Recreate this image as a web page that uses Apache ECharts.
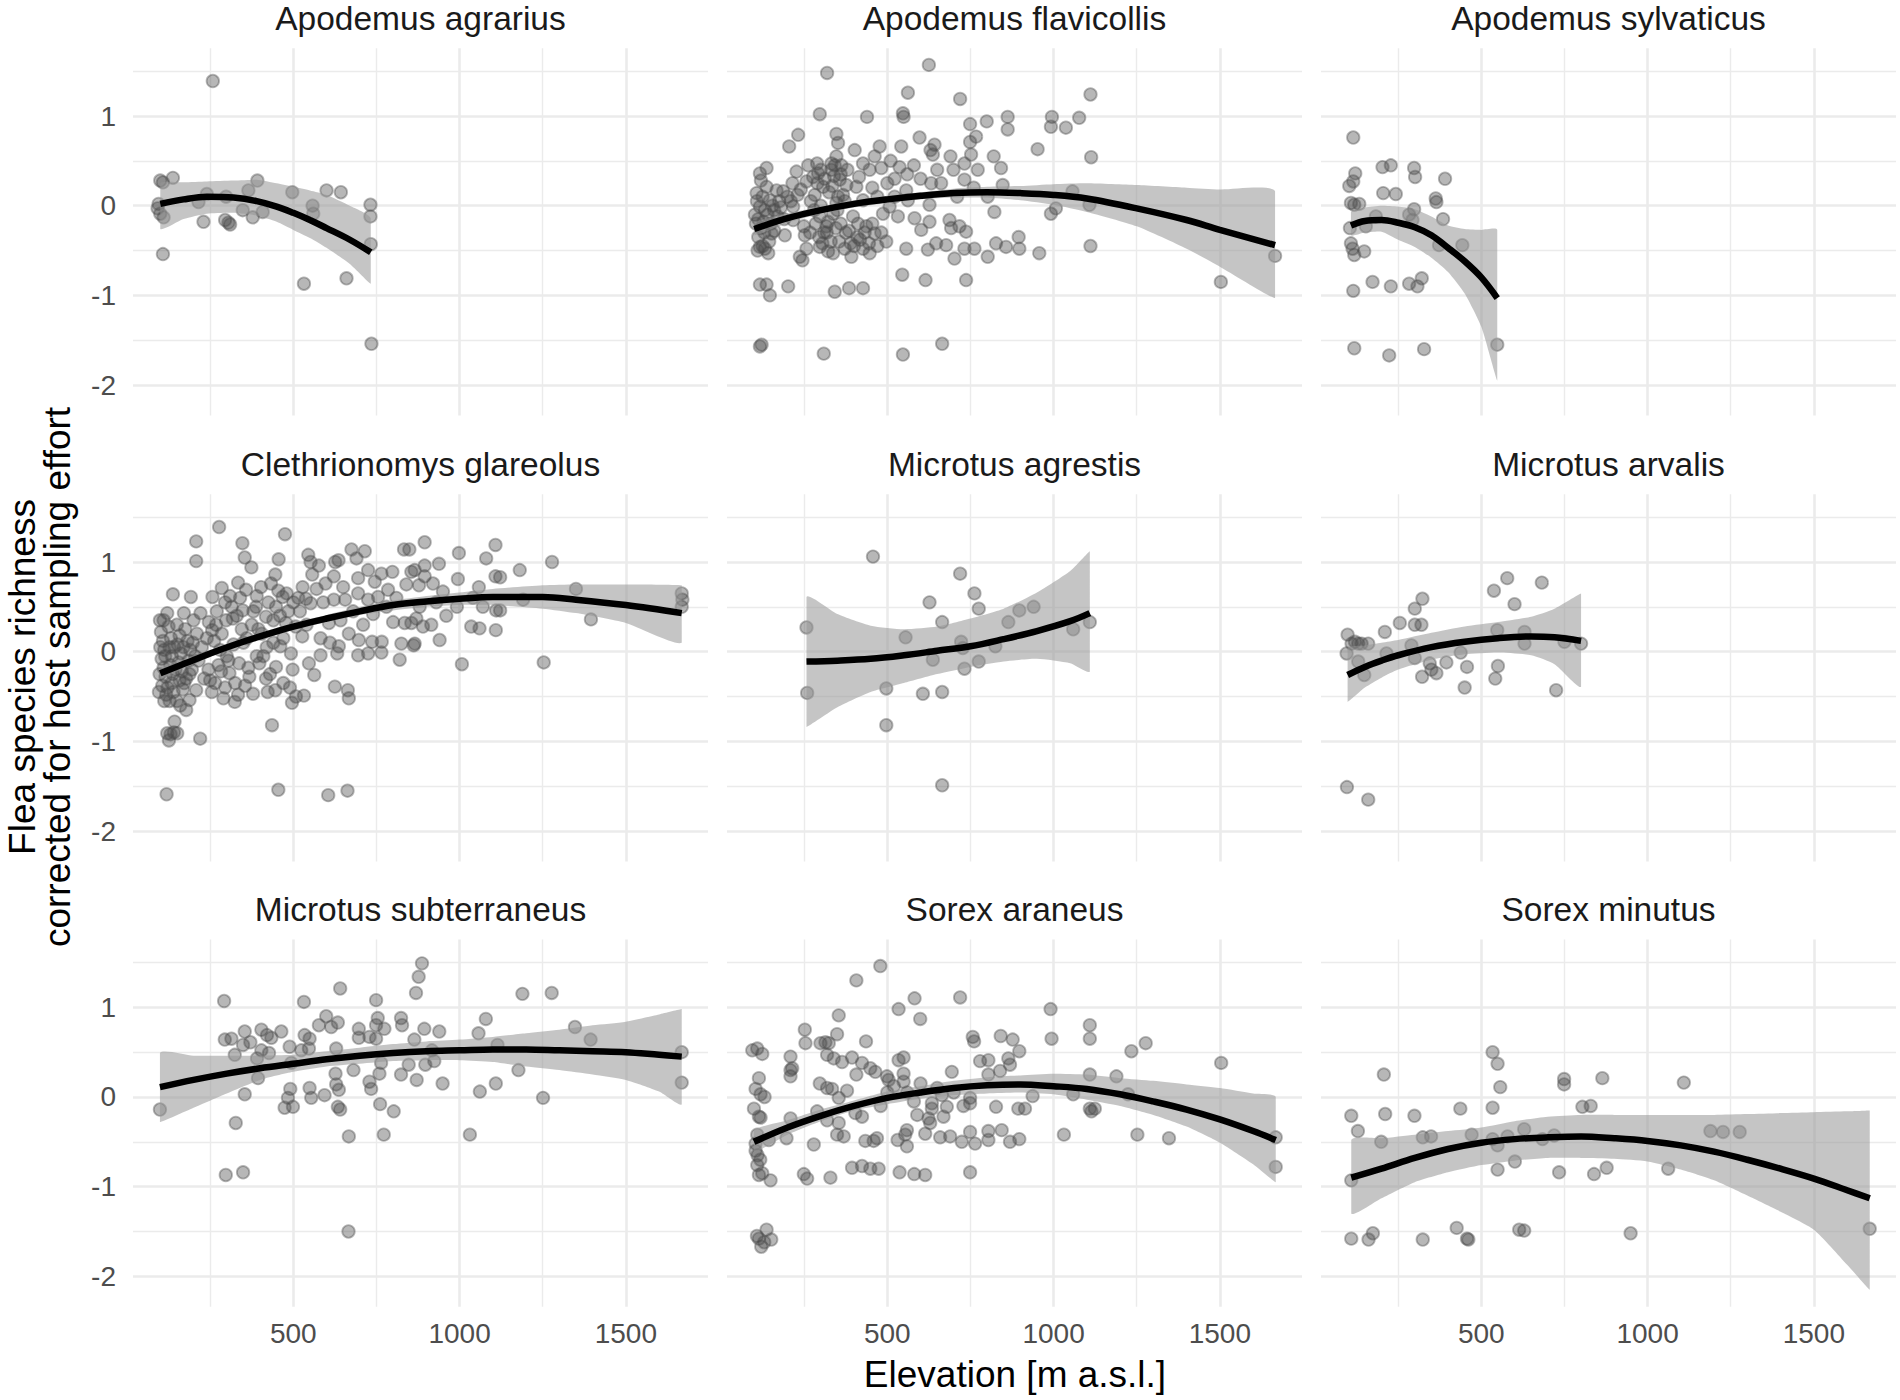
<!DOCTYPE html>
<html><head><meta charset="utf-8">
<script src="https://cdn.jsdelivr.net/npm/echarts/dist/echarts.min.js"></script>
<style>html,body{margin:0;padding:0;background:#fff}#c{width:1900px;height:1400px}</style>
</head><body><div id="c"></div>
<script>
// ---------- DATA ----------
const speciesNames = ['Apodemus agrarius','Apodemus flavicollis','Apodemus sylvaticus',
  'Clethrionomys glareolus','Microtus agrestis','Microtus arvalis',
  'Microtus subterraneus','Sorex araneus','Sorex minutus'];
const xTickLabels = [500, 1000, 1500];
const xMinorBreaks = [250, 750, 1250];
const yTickLabels = [-2, -1, 0, 1];
const yMinorBreaks = [-1.5, -0.5, 0.5, 1.5];

// points: [elevation, corrected richness]
const agrariusPts = [[258,1.39],[100,0.28],[108,0.26],[138,0.31],[95,0.02],[92,-0.03],[100,-0.09],[110,-0.13],[108,-0.54],[215,0.04],[240,0.13],[230,-0.18],[295,-0.16],[305,-0.19],[310,-0.21],[298,0.10],[348,-0.05],[365,0.17],[378,-0.13],[392,0.28],[408,-0.07],[497,0.15],[558,0.00],[560,-0.09],[600,0.17],[643,0.15],[532,-0.87],[660,-0.81],[732,0.01],[732,-0.12],[733,-0.43],[735,-1.54]];
const flavicollisPts = [[319,1.48],[625,1.57],[562,1.26],[719,1.19],[297,1.02],[439,0.99],[547,1.03],[549,0.99],[749,0.91],[799,0.94],[862,0.99],[862,0.85],[995,0.99],[992,0.88],[1037,0.87],[1077,0.98],[1111,1.24],[1113,0.54],[1111,-0.45],[232,0.79],[205,0.66],[347,0.80],[352,0.70],[402,0.62],[477,0.66],[542,0.66],[597,0.76],[642,0.68],[630,0.62],[637,0.57],[767,0.77],[749,0.71],[752,0.57],[732,0.47],[699,0.40],[772,0.40],[842,0.42],[952,0.63],[117,0.36],[137,0.42],[227,0.38],[289,0.47],[342,0.45],[347,0.55],[427,0.47],[462,0.55],[482,0.42],[537,0.43],[522,0.30],[632,0.25],[662,0.25],[732,0.29],[847,0.23],[1057,0.16],[992,-0.09],[1007,-0.03],[822,-0.07],[802,0.10],[627,0.01],[582,-0.14],[602,-0.27],[627,-0.18],[687,-0.16],[692,-0.25],[737,-0.29],[717,-0.23],[497,-0.40],[557,-0.48],[622,-0.49],[647,-0.42],[677,-0.44],[702,-0.59],[732,-0.48],[762,-0.48],[802,-0.57],[827,-0.42],[857,-0.46],[897,-0.48],[895,-0.35],[957,-0.53],[545,-0.77],[615,-0.83],[737,-0.83],[342,-0.96],[385,-0.92],[427,-0.92],[202,-0.90],[117,-0.88],[137,-0.88],[147,-1.00],[117,-1.57],[122,-1.55],[309,-1.65],[547,-1.66],[665,-1.54],[102,-0.10],[117,-0.01],[132,-0.05],[147,0.06],[167,0.17],[187,0.16],[107,0.14],[137,0.21],[117,-0.46],[132,-0.48],[142,-0.53],[152,-0.31],[192,-0.33],[217,-0.01],[217,-0.16],[237,-0.57],[245,-0.61],[257,-0.48],[252,-0.33],[249,-0.23],[257,0.27],[277,0.32],[292,0.36],[297,-0.12],[322,-0.18],[297,-0.46],[322,-0.51],[337,-0.53],[317,-0.23],[337,-0.09],[347,0.03],[367,0.12],[377,0.23],[407,0.21],[427,0.06],[397,-0.12],[412,-0.20],[437,-0.23],[462,-0.31],[392,-0.57],[427,-0.48],[447,-0.53],[487,-0.09],[507,-0.01],[532,-0.12],[522,0.10],[557,0.17],[562,0.06],[332,0.47],[332,0.40],[357,0.29],[307,0.21],[447,0.40],[1108,0.01],[1503,-0.85],[1666,-0.56],[105,-0.20],[112,-0.15],[120,-0.25],[128,-0.18],[140,-0.10],[150,-0.20],[160,-0.05],[170,-0.12],[108,0.05],[125,0.10],[155,0.00],[180,-0.02],[110,-0.50],[125,-0.45],[200,0.10],[210,0.05],[230,0.12],[270,0.05],[280,-0.05],[300,0.00],[310,-0.30],[355,-0.40],[375,-0.30],[390,-0.42],[410,-0.35],[360,0.35],[380,0.40],[415,0.32],[455,0.20],[470,0.10],[500,0.25],[510,0.50],[350,-0.05],[282,0.12],[290,0.25],[300,0.40],[312,0.30],[325,0.15],[335,0.22],[340,0.33],[352,0.10],[362,0.45],[372,0.05],[285,-0.20],[295,-0.35],[305,-0.42],[318,-0.30],[330,-0.40],[345,-0.25],[360,-0.20],[372,-0.48],[385,-0.28],[400,-0.45],[418,-0.38],[432,-0.30],[445,-0.42],[455,-0.20],[470,-0.45],[482,-0.30],[215,0.25],[240,0.18],[262,0.45],[268,-0.30],[120,0.28],[130,-0.30],[145,-0.40],[160,-0.28],[175,0.05],[190,-0.15],[112,-0.35],[560,0.35],[580,0.45],[600,0.30],[650,0.40],[690,0.55],[710,0.10],[760,0.20],[820,0.55]];
const sylvaticusPts = [[115,0.76],[121,0.36],[115,0.27],[103,0.22],[108,0.03],[118,0.01],[133,0.02],[105,-0.25],[108,-0.42],[113,-0.48],[118,-0.55],[148,-0.51],[153,-0.23],[183,-0.12],[203,0.43],[228,0.45],[205,0.14],[243,0.13],[283,-0.10],[298,0.42],[301,0.32],[298,-0.04],[293,-0.16],[363,0.08],[365,0.04],[391,0.30],[385,-0.15],[443,-0.44],[373,-0.44],[115,-0.95],[173,-0.85],[228,-0.90],[283,-0.87],[308,-0.90],[321,-0.81],[118,-1.59],[223,-1.67],[328,-1.60],[548,-1.55]];
const glareolusPts = [[277,1.39],[208,1.23],[208,1.01],[347,1.21],[354,1.05],[374,0.94],[475,1.31],[456,1.03],[446,0.86],[138,0.64],[192,0.61],[257,0.61],[285,0.71],[334,0.77],[358,0.69],[403,0.72],[433,0.76],[468,0.61],[545,1.08],[552,1.00],[577,0.96],[557,0.86],[597,0.76],[626,1.00],[636,1.02],[622,0.84],[675,1.14],[715,1.12],[690,1.04],[725,0.91],[765,0.87],[798,0.89],[833,1.14],[855,0.89],[695,0.82],[745,0.78],[785,0.69],[528,0.72],[538,0.59],[552,0.54],[622,0.58],[656,0.58],[695,0.65],[725,0.58],[755,0.61],[99,0.35],[121,0.43],[171,0.43],[221,0.43],[246,0.33],[256,0.24],[318,0.37],[348,0.46],[388,0.50],[418,0.39],[448,0.50],[478,0.32],[507,0.28],[527,0.17],[582,0.15],[607,0.32],[642,0.35],[667,0.20],[697,0.13],[737,0.11],[766,0.11],[800,0.33],[835,0.32],[865,0.09],[825,0.09],[820,-0.09],[632,-0.02],[637,0.06],[695,-0.04],[725,-0.02],[765,-0.01],[582,-0.04],[547,-0.13],[563,-0.26],[498,-0.20],[493,-0.02],[461,0.06],[448,-0.17],[418,-0.30],[398,-0.13],[368,-0.28],[337,-0.13],[308,-0.24],[283,-0.22],[250,-0.32],[245,-0.20],[208,-0.43],[178,-0.65],[188,-0.54],[290,-0.52],[324,-0.56],[334,-0.48],[379,-0.47],[423,-0.45],[446,-0.43],[496,-0.57],[508,-0.50],[532,-0.49],[625,-0.39],[664,-0.43],[667,-0.52],[436,-0.82],[220,-0.97],[143,-0.78],[121,-0.91],[131,-0.92],[141,-0.90],[151,-0.91],[126,-0.99],[119,-1.59],[455,-1.54],[605,-1.60],[663,-1.55],[102,0.22],[108,0.12],[112,0.02],[104,-0.08],[110,-0.18],[116,-0.28],[106,-0.38],[118,-0.48],[112,-0.55],[125,0.28],[132,0.15],[128,0.05],[135,-0.05],[130,-0.15],[138,-0.25],[134,-0.35],[140,-0.45],[128,-0.55],[150,0.30],[158,0.18],[152,0.08],[162,-0.02],[155,-0.12],[165,-0.22],[158,-0.32],[168,-0.42],[175,0.25],[182,0.12],[190,0.02],[185,-0.10],[195,-0.20],[178,-0.30],[200,0.35],[210,0.20],[205,-0.05],[150,-0.55],[160,-0.60],[98,-0.25],[100,0.05],[96,-0.45],[270,0.45],[295,0.55],[310,0.62],[330,0.40],[345,0.25],[360,0.15],[375,0.30],[390,0.62],[405,0.20],[420,0.05],[440,0.35],[455,0.68],[470,0.15],[485,0.45],[500,0.55],[515,0.60],[262,0.12],[280,0.02],[300,-0.05],[320,0.08],[265,-0.35],[295,-0.40],[355,-0.38],[390,-0.05],[430,-0.25],[470,-0.35],[849,1.14],[895,1.22],[998,1.10],[1108,1.19],[1080,1.04],[1278,1.00],[865,0.91],[895,0.96],[938,0.98],[895,0.84],[920,0.76],[878,0.74],[950,0.67],[995,0.81],[1058,0.72],[1108,0.84],[1122,0.83],[1181,0.91],[1350,0.70],[992,0.50],[1191,0.58],[1110,0.46],[1122,0.46],[1395,0.36],[870,0.37],[855,0.32],[890,0.28],[915,0.30],[1035,0.28],[1060,0.26],[1109,0.24],[940,0.13],[862,0.07],[1007,-0.14],[1253,-0.12],[1668,0.65],[1670,0.58],[1668,0.50],[110,0.35],[115,-0.05],[122,-0.40],[142,0.05],[146,-0.20],[170,0.05],[172,-0.35],[188,-0.25],[198,0.10],[215,-0.10],[225,0.05],[232,-0.30],[240,0.15],[255,-0.45],[268,0.30],[275,-0.15],[285,0.20],[298,0.35],[305,-0.10],[315,0.50],[325,-0.35],[340,0.60],[350,0.10],[365,-0.18],[380,0.45],[395,0.25],[410,-0.05],[425,0.55],[440,0.10],[460,0.40],[480,0.65],[490,-0.40],[520,0.45],[540,0.30],[570,0.70],[590,0.55],[610,0.10],[650,0.72],[680,0.45],[710,0.30],[740,0.42],[780,0.50],[810,0.60],[840,0.75],[880,0.50],[930,0.55],[960,0.40],[1040,0.60],[1070,0.50]];
const agrestisPts = [[257,0.27],[259,-0.46],[457,1.06],[497,-0.41],[497,-0.82],[555,0.16],[627,0.55],[637,-0.09],[607,-0.47],[665,0.33],[665,-0.45],[665,-1.49],[719,0.87],[762,0.65],[775,0.48],[722,0.11],[727,0.04],[732,-0.19],[775,-0.11],[825,0.06],[864,0.33],[897,0.46],[940,0.50],[1059,0.25],[1109,0.33]];
const arvalisPts = [[98,0.19],[95,-0.02],[110,0.09],[120,0.11],[130,0.09],[140,0.09],[160,0.09],[130,-0.11],[148,-0.26],[210,0.22],[215,-0.02],[255,0.32],[290,0.07],[300,-0.07],[300,0.30],[320,0.30],[300,0.48],[323,0.59],[322,-0.28],[345,-0.13],[350,-0.20],[365,-0.24],[395,-0.12],[438,-0.01],[457,-0.17],[450,-0.40],[538,0.68],[578,0.82],[600,0.53],[548,0.24],[550,-0.16],[542,-0.30],[630,0.22],[630,0.09],[682,0.77],[725,-0.43],[750,0.11],[800,0.09],[96,-1.51],[160,-1.65]];
const subterraneusPts = [[99,-0.14],[292,1.07],[294,0.64],[314,0.65],[324,0.47],[327,-0.29],[297,-0.87],[349,-0.84],[354,0.73],[349,0.58],[371,0.61],[354,0.03],[391,0.43],[394,0.21],[404,0.75],[404,0.52],[421,0.69],[434,0.66],[427,0.49],[464,0.73],[489,0.56],[494,0.38],[491,0.09],[484,-0.01],[474,-0.12],[499,-0.11],[524,0.52],[532,1.06],[534,0.69],[549,0.65],[547,0.54],[549,0.10],[554,-0.01],[577,0.80],[599,0.90],[614,0.78],[634,0.83],[594,0.02],[629,0.54],[627,0.26],[629,0.14],[637,0.08],[634,-0.11],[641,-0.14],[641,1.21],[667,-0.44],[666,-1.50],[681,0.30],[697,0.76],[697,0.66],[729,0.67],[729,0.17],[734,0.09],[749,1.08],[754,0.88],[749,0.80],[774,0.76],[749,0.65],[759,0.26],[764,0.38],[761,-0.08],[802,-0.16],[772,-0.42],[824,0.88],[827,0.80],[824,0.25],[847,0.36],[864,0.64],[869,1.16],[877,1.34],[887,1.49],[894,0.76],[871,0.19],[897,0.36],[917,0.52],[924,0.40],[939,0.73],[949,0.15],[1031,-0.42],[1057,0.71],[1079,0.87],[1061,0.06],[1109,0.15],[1114,0.58],[1177,0.30],[1189,1.15],[1251,-0.01],[1277,1.16],[1347,0.78],[1394,0.64],[1668,0.50],[1668,0.16]];
const araneusPts = [[479,1.46],[407,1.30],[719,1.11],[582,1.10],[534,0.98],[599,0.87],[354,0.91],[991,0.98],[252,0.75],[254,0.60],[349,0.70],[299,0.60],[314,0.61],[324,0.60],[436,0.62],[94,0.52],[109,0.54],[124,0.48],[209,0.45],[209,0.30],[209,0.23],[214,0.32],[319,0.47],[339,0.43],[364,0.39],[394,0.44],[424,0.38],[449,0.32],[464,0.28],[407,0.25],[499,0.23],[504,0.19],[534,0.41],[549,0.44],[549,0.26],[549,0.17],[757,0.67],[761,0.62],[841,0.68],[877,0.64],[897,0.51],[864,0.43],[869,0.36],[779,0.40],[804,0.41],[694,0.28],[804,0.25],[839,0.29],[994,0.65],[1109,0.80],[1109,0.65],[1109,0.25],[1189,0.23],[1234,0.51],[1277,0.60],[1504,0.38],[1224,0.03],[1059,0.03],[937,0.01],[914,-0.13],[894,-0.13],[1109,-0.13],[1114,-0.16],[1124,-0.13],[1031,-0.42],[1252,-0.42],[1347,-0.46],[827,-0.11],[749,-0.01],[749,-0.07],[729,-0.10],[679,-0.11],[669,-0.22],[634,-0.07],[634,-0.13],[624,-0.24],[629,-0.29],[614,-0.41],[659,-0.45],[689,-0.44],[724,-0.50],[749,-0.39],[764,-0.52],[804,-0.38],[804,-0.48],[844,-0.37],[869,-0.50],[897,-0.47],[559,-0.37],[554,-0.42],[559,-0.55],[531,-0.48],[469,-0.46],[459,-0.49],[434,-0.49],[349,-0.42],[369,-0.44],[279,-0.53],[197,-0.46],[209,-0.24],[289,-0.16],[319,-0.26],[354,-0.29],[404,-0.18],[424,-0.22],[319,0.10],[334,0.09],[354,-0.01],[379,0.07],[297,0.15],[114,0.21],[104,0.09],[119,0.03],[131,0.00],[99,-0.13],[114,-0.22],[119,-0.23],[109,-0.42],[104,-0.52],[144,-0.48],[109,-0.76],[114,-0.87],[124,-0.85],[149,-0.93],[249,-0.86],[259,-0.91],[329,-0.90],[394,-0.79],[424,-0.77],[449,-0.80],[474,-0.80],[537,-0.84],[581,-0.86],[614,-0.87],[749,-0.84],[137,-1.48],[114,-1.58],[121,-1.67],[151,-1.59],[664,0.02],[1668,-0.45],[1668,-0.78],[104,-0.60],[110,-0.65],[118,-0.70],[108,-1.55],[130,-1.62],[500,0.05],[520,0.12],[560,0.05],[580,-0.05],[600,0.15],[650,0.10],[700,0.05],[480,-0.10],[590,-0.20]];
const minutusPts = [[109,-0.21],[129,-0.38],[199,-0.50],[207,0.25],[211,-0.19],[299,-0.21],[324,-0.45],[349,-0.44],[437,-0.13],[471,-0.42],[534,0.50],[549,0.37],[557,0.11],[534,-0.12],[534,-0.47],[549,-0.54],[549,-0.81],[579,-0.44],[601,-0.72],[629,-0.36],[684,-0.47],[719,-0.43],[734,-0.84],[749,0.20],[749,0.14],[804,-0.11],[829,-0.10],[839,-0.86],[877,-0.79],[864,0.21],[1062,-0.80],[1109,0.16],[1189,-0.38],[1227,-0.39],[1277,-0.39],[109,-0.93],[109,-1.58],[161,-1.59],[174,-1.52],[324,-1.59],[426,-1.46],[457,-1.58],[461,-1.59],[614,-1.48],[629,-1.49],[949,-1.52],[1668,-1.47]];

// smooth fits: [elevation, fit, lower 95% CI, upper 95% CI]
const agrariusFit = [[100,0.02,-0.26,0.25],[170,0.07,-0.15,0.26],[240,0.10,-0.09,0.27],[320,0.09,-0.08,0.28],[390,0.05,-0.11,0.29],[450,-0.01,-0.18,0.25],[500,-0.08,-0.27,0.21],[550,-0.16,-0.36,0.17],[600,-0.25,-0.47,0.12],[670,-0.38,-0.65,0.00],[733,-0.52,-0.87,-0.14]];
const flavicollisFit = [[100,-0.26,-0.33,-0.19],[200,-0.14,-0.19,-0.09],[300,-0.05,-0.09,-0.01],[400,0.02,-0.02,0.06],[500,0.07,0.03,0.11],[600,0.11,0.07,0.15],[700,0.14,0.09,0.19],[800,0.15,0.09,0.21],[900,0.14,0.06,0.22],[1000,0.12,0.01,0.24],[1100,0.08,-0.07,0.25],[1250,-0.03,-0.23,0.23],[1400,-0.16,-0.48,0.20],[1500,-0.27,-0.68,0.18],[1666,-0.44,-1.03,0.16]];
const sylvaticusFit = [[108,-0.22,-0.33,-0.07],[150,-0.17,-0.30,-0.02],[200,-0.16,-0.29,0.00],[250,-0.19,-0.38,-0.01],[300,-0.24,-0.46,-0.04],[350,-0.33,-0.58,-0.12],[400,-0.47,-0.74,-0.22],[450,-0.62,-0.98,-0.26],[500,-0.80,-1.35,-0.27],[548,-1.03,-1.95,-0.27]];
const glareolusFit = [[100,-0.24,-0.30,-0.17],[175,-0.13,-0.18,-0.08],[250,-0.02,-0.06,0.02],[325,0.08,0.04,0.12],[400,0.17,0.13,0.21],[500,0.28,0.24,0.32],[600,0.37,0.33,0.41],[700,0.45,0.41,0.50],[800,0.52,0.46,0.57],[900,0.56,0.50,0.62],[1000,0.59,0.52,0.66],[1100,0.61,0.52,0.70],[1250,0.61,0.48,0.74],[1350,0.58,0.43,0.75],[1500,0.52,0.32,0.75],[1668,0.43,0.10,0.74]];
const agrestisFit = [[257,-0.11,-0.84,0.61],[350,-0.10,-0.62,0.42],[450,-0.08,-0.45,0.29],[550,-0.04,-0.35,0.25],[650,0.01,-0.25,0.28],[750,0.06,-0.17,0.37],[850,0.14,-0.11,0.48],[950,0.23,-0.08,0.66],[1050,0.34,-0.13,0.90],[1109,0.43,-0.22,1.12]];
const arvalisFit = [[98,-0.26,-0.56,0.04],[150,-0.17,-0.40,0.07],[200,-0.10,-0.29,0.10],[250,-0.04,-0.20,0.13],[350,0.05,-0.09,0.21],[450,0.11,-0.03,0.28],[550,0.15,-0.01,0.33],[650,0.17,-0.04,0.39],[720,0.16,-0.14,0.48],[800,0.12,-0.39,0.65]];
const subterraneusFit = [[99,0.11,-0.28,0.49],[200,0.19,-0.12,0.46],[300,0.26,0.04,0.46],[400,0.32,0.19,0.46],[500,0.37,0.28,0.47],[600,0.42,0.34,0.51],[700,0.46,0.37,0.55],[800,0.49,0.40,0.59],[900,0.51,0.41,0.62],[1000,0.52,0.41,0.64],[1100,0.53,0.39,0.67],[1200,0.53,0.34,0.71],[1300,0.52,0.30,0.75],[1400,0.51,0.25,0.80],[1500,0.50,0.19,0.84],[1600,0.47,0.06,0.92],[1668,0.45,-0.08,0.98]];
const araneusFit = [[99,-0.50,-0.61,-0.37],[200,-0.34,-0.42,-0.26],[300,-0.21,-0.27,-0.14],[400,-0.10,-0.15,-0.04],[500,-0.01,-0.08,0.06],[600,0.05,-0.02,0.12],[700,0.10,0.02,0.18],[800,0.13,0.04,0.22],[900,0.14,0.05,0.24],[1000,0.12,0.03,0.26],[1100,0.09,-0.03,0.25],[1200,0.03,-0.10,0.21],[1300,-0.05,-0.20,0.18],[1400,-0.14,-0.33,0.14],[1500,-0.25,-0.51,0.10],[1600,-0.38,-0.75,0.04],[1668,-0.48,-0.95,0.00]];
const minutusFit = [[109,-0.90,-1.30,-0.48],[200,-0.80,-1.13,-0.46],[300,-0.68,-0.95,-0.42],[400,-0.58,-0.84,-0.38],[500,-0.51,-0.76,-0.34],[600,-0.47,-0.71,-0.27],[700,-0.45,-0.68,-0.22],[800,-0.44,-0.68,-0.20],[900,-0.46,-0.69,-0.20],[1000,-0.49,-0.72,-0.20],[1100,-0.54,-0.81,-0.20],[1200,-0.61,-0.93,-0.20],[1300,-0.70,-1.10,-0.19],[1400,-0.80,-1.28,-0.18],[1500,-0.91,-1.48,-0.17],[1600,-1.04,-1.87,-0.16],[1668,-1.13,-2.15,-0.15]];

const pointSets = [agrariusPts, flavicollisPts, sylvaticusPts, glareolusPts, agrestisPts, arvalisPts, subterraneusPts, araneusPts, minutusPts];
const fitSets = [agrariusFit, flavicollisFit, sylvaticusFit, glareolusFit, agrestisFit, arvalisFit, subterraneusFit, araneusFit, minutusFit];

// ---------- LAYOUT / STYLE ----------
const FONT = "'Liberation Sans', Arial, Helvetica, sans-serif";
const colLeft = [133, 727, 1321];
const rowTop = [48.3, 494.3, 939.6];
const panelW = 575, panelH = 367.2;
const X_MIN = 18, X_MAX = 1747, Y_MIN = -2.34, Y_MAX = 1.755;
const GRID_COLOR = '#EBEBEB';
const BAND_COLOR = 'rgba(150,150,150,0.55)';
const POINT_COLOR = 'rgba(75,75,75,0.5)';

const chart = echarts.init(document.getElementById('c'), null, {renderer: 'svg', width: 1900, height: 1400});

function bandRenderer(fit) {
  return function (params, api) {
    if (params.dataIndex !== 0) return null;
    const pts = [];
    for (let k = 0; k < fit.length; k++) pts.push(api.coord([fit[k][0], fit[k][3]]));
    for (let k = fit.length - 1; k >= 0; k--) pts.push(api.coord([fit[k][0], fit[k][2]]));
    let x0 = Infinity, y0 = Infinity, x1 = -Infinity, y1 = -Infinity;
    pts.forEach(p => { x0 = Math.min(x0, p[0]); y0 = Math.min(y0, p[1]); x1 = Math.max(x1, p[0]); y1 = Math.max(y1, p[1]); });
    return {
      type: 'polygon',
      shape: {points: pts, smooth: 0.2, smoothConstraint: [[x0, y0], [x1, y1]]},
      style: {fill: BAND_COLOR}
    };
  };
}

const grids = [], xAxes = [], yAxes = [], series = [], graphics = [];
for (let i = 0; i < 9; i++) {
  const r = Math.floor(i / 3), c = i % 3;
  grids.push({left: colLeft[c], top: rowTop[r], width: panelW, height: panelH, containLabel: false});
  xAxes.push({
    type: 'value', gridIndex: i, min: X_MIN, max: X_MAX,
    axisLine: {show: false}, axisTick: {show: false}, splitLine: {show: false},
    axisLabel: {show: r === 2, customValues: xTickLabels, formatter: v => String(v),
      fontSize: 28, color: '#4D4D4D', fontFamily: FONT, margin: 13}
  });
  yAxes.push({
    type: 'value', gridIndex: i, min: Y_MIN, max: Y_MAX,
    axisLine: {show: false}, axisTick: {show: false}, splitLine: {show: false},
    axisLabel: {show: c === 0, customValues: yTickLabels, formatter: v => String(v),
      fontSize: 28, color: '#4D4D4D', fontFamily: FONT, margin: 17}
  });
  const ml = [];
  xMinorBreaks.forEach(v => ml.push({xAxis: v, lineStyle: {width: 1.4}}));
  xTickLabels.forEach(v => ml.push({xAxis: v, lineStyle: {width: 2.6}}));
  yMinorBreaks.forEach(v => ml.push({yAxis: v, lineStyle: {width: 1.4}}));
  yTickLabels.forEach(v => ml.push({yAxis: v, lineStyle: {width: 2.6}}));
  series.push({
    type: 'line', xAxisIndex: i, yAxisIndex: i, data: [], z: 1, silent: true, animation: false,
    markLine: {z: 1, silent: true, animation: false, symbol: ['none', 'none'], label: {show: false},
      lineStyle: {color: GRID_COLOR, type: 'solid'}, emphasis: {disabled: true}, data: ml}
  });
  series.push({
    type: 'scatter', xAxisIndex: i, yAxisIndex: i, data: pointSets[i], z: 2, silent: true, animation: false,
    symbol: 'circle', symbolSize: 12.5,
    itemStyle: {color: POINT_COLOR, borderColor: POINT_COLOR, borderWidth: 1.8}
  });
  const fit = fitSets[i];
  series.push({
    type: 'custom', xAxisIndex: i, yAxisIndex: i, z: 3, silent: true, animation: false,
    data: fit.map(d => [d[0], d[2], d[3]]),
    encode: {x: 0, y: [1, 2]},
    renderItem: bandRenderer(fit)
  });
  series.push({
    type: 'line', xAxisIndex: i, yAxisIndex: i, z: 4, silent: true, animation: false,
    symbol: 'none', smooth: 0.35,
    lineStyle: {color: '#000', width: 6.5, cap: 'butt'},
    data: fit.map(d => [d[0], d[1]])
  });
  graphics.push({
    type: 'text', x: colLeft[c] + panelW / 2, y: rowTop[r] - 30, silent: true,
    style: {text: speciesNames[i], fontSize: 33.5, fontFamily: FONT, fill: '#1A1A1A', align: 'center', verticalAlign: 'middle'}
  });
}
graphics.push({type: 'text', x: 1015, y: 1374, silent: true,
  style: {text: 'Elevation [m a.s.l.]', fontSize: 37, fontFamily: FONT, fill: '#000', align: 'center', verticalAlign: 'middle'}});
graphics.push({type: 'text', x: 22, y: 677, rotation: Math.PI / 2, silent: true,
  style: {text: 'Flea species richness', fontSize: 37, fontFamily: FONT, fill: '#000', align: 'center', verticalAlign: 'middle'}});
graphics.push({type: 'text', x: 57, y: 677, rotation: Math.PI / 2, silent: true,
  style: {text: 'corrected for host sampling effort', fontSize: 37, fontFamily: FONT, fill: '#000', align: 'center', verticalAlign: 'middle'}});

chart.setOption({
  backgroundColor: '#ffffff',
  animation: false,
  grid: grids, xAxis: xAxes, yAxis: yAxes, series: series, graphic: graphics
});
</script>
</body></html>
